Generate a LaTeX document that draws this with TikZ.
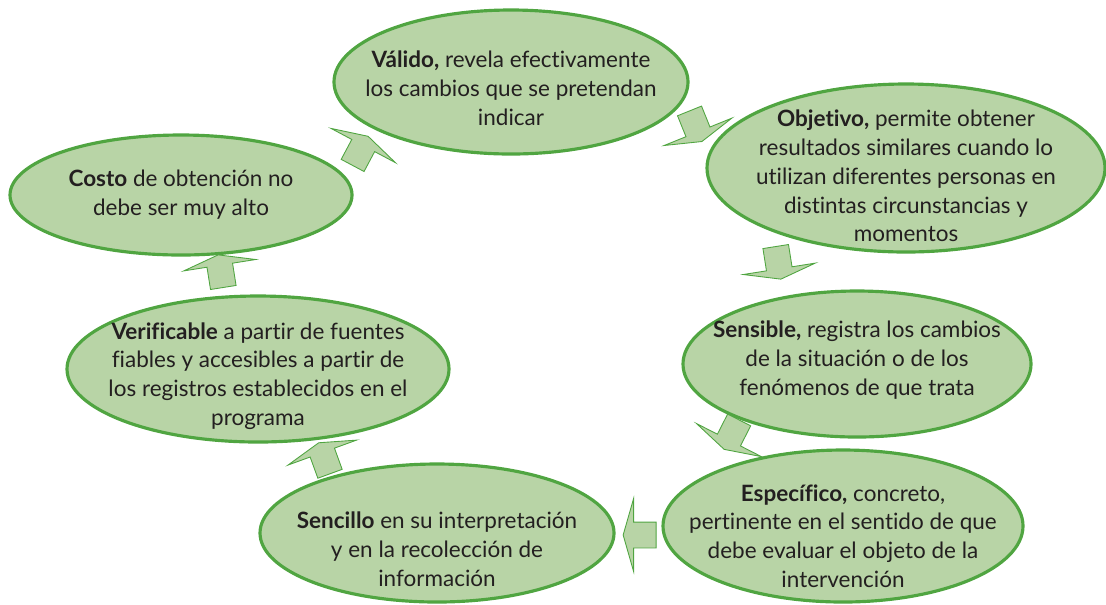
\documentclass[tikz,border=0pt]{standalone}
\usepackage{fontspec}
\setmainfont{Lato}[Ligatures=NoCommon]
\usepackage{tikz}
\usetikzlibrary{shapes.geometric, shapes.arrows}
\definecolor{verdeclaro}{RGB}{184,212,166}
\definecolor{verdeborde}{RGB}{80,165,65}
\definecolor{tinta}{RGB}{35,31,32}
\tikzstyle{elipse} = [ellipse, inner sep=0pt, draw=verdeborde, line width=1.8pt, fill=verdeclaro]
\tikzstyle{texto} = [align=center, text=tinta, font=\fontsize{12.8}{16.4}\selectfont]
\tikzstyle{flecha} = [single arrow, draw=verdeborde, line width=0.5pt, fill=verdeclaro, inner xsep=0pt, inner ysep=0.25cm, minimum height=0.66cm, single arrow head extend=0.47cm, single arrow tip angle=148]

\begin{document}
\begin{tikzpicture}
\useasboundingbox (0,0) rectangle (22.12,-12.08);

\node (val) [elipse, minimum width=7.08cm, minimum height=2.88cm] at (10.22,-1.64) {};
\node (obj) [elipse, minimum width=7.96cm, minimum height=3.36cm] at (18.12,-3.36) {};
\node (sen) [elipse, minimum width=6.96cm, minimum height=2.92cm] at (17.14,-7.28) {};
\node (esp) [elipse, minimum width=7.2cm, minimum height=3.04cm] at (16.86,-10.52) {};
\node (sim) [elipse, minimum width=7.08cm, minimum height=2.76cm] at (8.74,-10.66) {};
\node (ver) [elipse, minimum width=7.64cm, minimum height=2.92cm] at (5.16,-7.38) {};
\node (cos) [elipse, minimum width=6.84cm, minimum height=2.4cm] at (3.62,-3.9) {};

\node (t-val) [texto] at ([yshift=-0.12cm]val.center) {\textbf{Válido,} revela efectivamente\\los cambios que se pretendan\\indicar};
\node (t-obj) [texto] at ([yshift=-0.16cm]obj.center) {\textbf{Objetivo,} permite obtener\\resultados similares cuando lo\\utilizan diferentes personas en\\distintas circunstancias y\\momentos};
\node (t-sen) [texto] at ([yshift=0.08cm]sen.center) {\textbf{Sensible,} registra los cambios\\de la situación o de los\\fenómenos de que trata};
\node (t-esp) [texto] at ([yshift=-0.2cm]esp.center) {\textbf{Específico,} concreto,\\pertinente en el sentido de que\\debe evaluar el objeto de la\\intervención};
\node (t-sim) [texto] at ([yshift=-0.32cm]sim.center) {\textbf{Sencillo} en su interpretación\\y en la recolección de\\información};
\node (t-ver) [texto] at ([yshift=-0.14cm]ver.center) {\textbf{Verificable} a partir de fuentes\\fiables y accesibles a partir de\\los registros establecidos en el\\programa};
\node (t-cos) [texto] at (cos.center) {\textbf{Costo} de obtención no\\debe ser muy alto};

\node (a1) [flecha, rotate=62] at (7.19,-3.05) {};
\node (a2) [flecha, rotate=-68] at (13.9,-2.49) {};
\node (a3) [flecha, rotate=-81] at (15.56,-5.22) {};
\node (a4) [flecha, rotate=-117] at (14.65,-8.66) {};
\node (a5) [flecha, rotate=180] at (12.83,-10.7) {};
\node (a6) [flecha, rotate=110] at (6.5,-9.2) {};
\node (a7) [flecha, rotate=99] at (4.42,-5.46) {};
\end{tikzpicture}
\end{document}
